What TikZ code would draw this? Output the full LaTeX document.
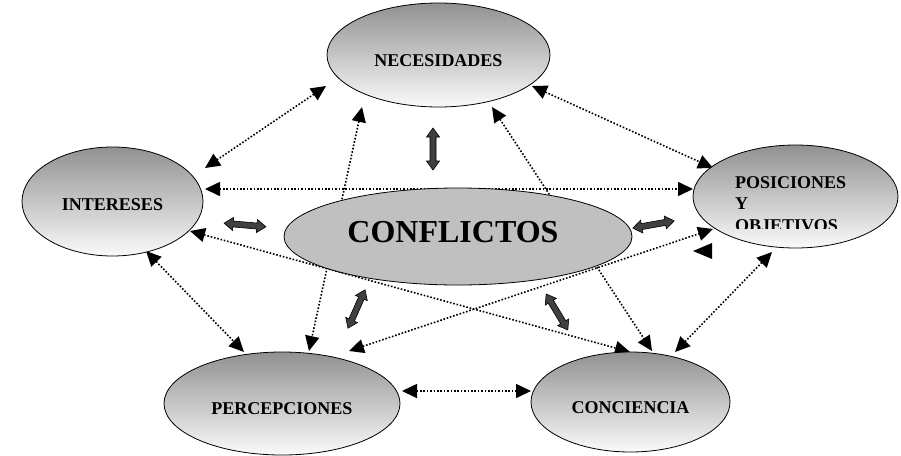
\documentclass[tikz,border=0pt]{standalone}
\usepackage{fontspec}
\setmainfont{Liberation Serif}
\usetikzlibrary{shapes.geometric,arrows.meta}
\definecolor{ovaltop}{RGB}{145,145,145}
\definecolor{ovalbot}{RGB}{250,250,250}
\definecolor{silverfill}{RGB}{192,192,192}
\definecolor{arrowfill}{RGB}{64,64,64}
\begin{document}
\begin{tikzpicture}[x=1pt,y=-1pt,
  oval/.style={ellipse, draw=black, line width=0.8pt, inner sep=0pt, top color=ovaltop, bottom color=ovalbot},
  lbl/.style={font=\fontsize{18}{21.6}\selectfont\bfseries, inner sep=0pt},
  link/.style={line width=1.6pt, dash pattern=on 1.6pt off 1.8pt,
    {Triangle[length=15pt,width=14pt]}-{Triangle[length=15pt,width=14pt]}},
  dblarrow/.pic={\filldraw[draw=black, line width=0.6pt, fill=arrowfill]
    (-21pt,0pt) -- (-12pt,6.5pt) -- (-12pt,3pt) -- (12pt,3pt) -- (12pt,6.5pt) -- (21pt,0pt)
    -- (12pt,-6.5pt) -- (12pt,-3pt) -- (-12pt,-3pt) -- (-12pt,-6.5pt) -- cycle;}
]
\fill[white] (0,0) rectangle (901,455);
\useasboundingbox (0,0) rectangle (901,455);

% connector end points
\coordinate (nA) at (326,86);
\coordinate (iA) at (205,168);
\coordinate (nB) at (532,86);
\coordinate (pB) at (713,168);
\coordinate (iC) at (205,189);
\coordinate (pC) at (693,189);
\coordinate (nD) at (362,107);
\coordinate (rD) at (309,351);
\coordinate (nE) at (492,107);
\coordinate (cE) at (652,351);
\coordinate (iF) at (190,231);
\coordinate (cF) at (630,352);
\coordinate (iG) at (146,251);
\coordinate (rG) at (244,352);
\coordinate (rH) at (349,351);
\coordinate (pH) at (713,229);
\coordinate (pI) at (772,252);
\coordinate (cI) at (675,352);
\coordinate (rJ) at (402,391);
\coordinate (cJ) at (531,391);

% dotted double-headed connectors
\draw[link] (nA) -- (iA);
\draw[link] (nB) -- (pB);
\draw[link] (iC) -- (pC);
\draw[link] (nD) -- (rD);
\draw[link] (nE) -- (cE);
\draw[link] (iF) -- (cF);
\draw[link] (iG) -- (rG);
\draw[link] (rH) -- (pH);
\draw[link] (pI) -- (cI);
\draw[link] (rJ) -- (cJ);

% stray arrowhead
\fill (693,251) -- (712,243) -- (712,259) -- cycle;

% ellipses
\node[oval, minimum width=223pt, minimum height=104pt] (nec) at (438.5,55) {};
\node[lbl] (necl) at ([yshift=-6pt]nec.center) {NECESIDADES};

\node[oval, minimum width=181pt, minimum height=109pt] (int) at (112.5,201.5) {};
\node[lbl] (intl) at ([yshift=-3pt]int.center) {INTERESES};

\node[oval, minimum width=205pt, minimum height=103pt] (pos) at (795.5,196.5) {};
\begin{scope}
\clip (700,150) rectangle (895,228);
\node[lbl, align=left, anchor=north west] (posl) at (735,176) {POSICIONES\\Y\\OBJETIVOS};
\end{scope}

\node[oval, minimum width=236pt, minimum height=103pt] (per) at (282,403.5) {};
\node[lbl] (perl) at ([yshift=-5pt]per.center) {PERCEPCIONES};

\node[oval, minimum width=199pt, minimum height=100pt] (con) at (630.5,402) {};
\node[lbl] (conl) at ([yshift=-6pt]con.center) {CONCIENCIA};

\node[ellipse, draw=black, line width=0.8pt, fill=silverfill, inner sep=0pt,
  minimum width=348pt, minimum height=97pt] (conf) at (458,236.5) {};
\node[font=\fontsize{32}{38}\selectfont\bfseries, inner sep=0pt] (confl)
  at ([xshift=-5pt,yshift=4.5pt]conf.center) {CONFLICTOS};

% thick double arrows
\pic[rotate=90] (a1) at (433,149) {dblarrow};
\pic[rotate=-5] (a2) at (245,225) {dblarrow};
\pic[rotate=10] (a3) at (653.5,224.5) {dblarrow};
\pic[rotate=66] (a4) at (356.5,309) {dblarrow};
\pic[rotate=121] (a5) at (557,312) {dblarrow};
\end{tikzpicture}
\end{document}
